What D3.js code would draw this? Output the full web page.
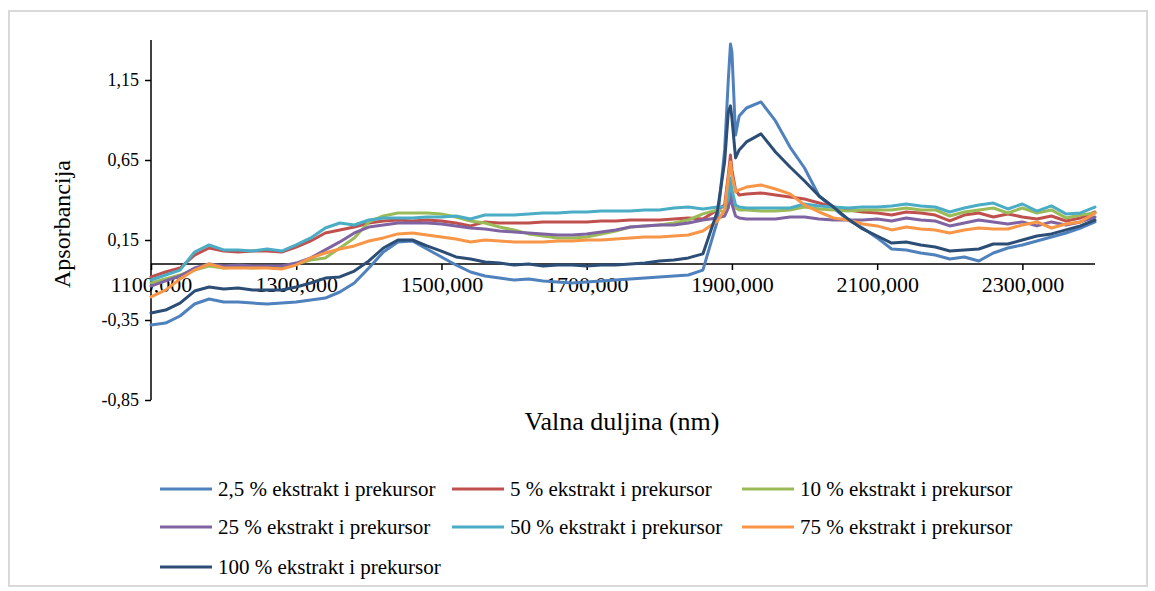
<!DOCTYPE html>
<html>
<head>
<meta charset="utf-8">
<script src="https://cdn.jsdelivr.net/npm/d3@7"></script>
<style>
  html, body { margin: 0; padding: 0; background: #ffffff; }
  svg { display: block; }
  svg text { font-family: "Liberation Serif", "Tinos", "Times New Roman", "DejaVu Serif", serif !important; fill: #000; }
</style>
</head>
<body>
<svg id="chart" width="1155" height="591"></svg>
<script>
// ---- data ----
const wavelengths = [1100,1120,1140,1160,1180,1200,1220,1240,1260,1280,1300,1320,1340,1360,1380,1400,1420,1440,1460,1480,
  1500,1520,1540,1560,1580,1600,1620,1640,1660,1680,1700,1720,1740,1760,1780,1800,1820,1840,1860,1880,
  1890,1895,1898,1900,1905,1910,
  1920,1940,1960,1980,2000,2020,2040,2060,2080,2100,2120,2140,2160,2180,2200,2220,2240,2260,2280,2300,2320,2340,2360,2380,2400];

const seriesNames = ["2,5 % ekstrakt i prekursor","5 % ekstrakt i prekursor","10 % ekstrakt i prekursor",
  "25 % ekstrakt i prekursor","50 % ekstrakt i prekursor","75 % ekstrakt i prekursor","100 % ekstrakt i prekursor"];

const ext2_5 = [-0.381,-0.369,-0.325,-0.250,-0.219,-0.238,-0.238,-0.244,-0.250,-0.244,-0.238,-0.225,-0.213,-0.175,-0.119,-0.025,0.075,0.138,0.144,0.094,
  0.044,-0.006,-0.050,-0.075,-0.088,-0.100,-0.094,-0.106,-0.113,-0.119,-0.113,-0.106,-0.100,-0.094,-0.088,-0.081,-0.075,-0.069,-0.038,0.270,
  0.713,1.150,1.375,1.325,0.806,0.925,
  0.975,1.013,0.894,0.731,0.600,0.425,0.350,0.275,0.225,0.163,0.094,0.088,0.069,0.056,0.031,0.044,0.019,0.069,0.100,0.119,0.144,0.169,0.194,0.225,0.263];

const ext5 = [-0.081,-0.050,-0.025,0.056,0.100,0.081,0.075,0.081,0.081,0.075,0.106,0.144,0.194,0.213,0.231,0.256,0.269,0.275,0.269,0.275,
  0.269,0.256,0.238,0.263,0.256,0.256,0.256,0.263,0.263,0.263,0.263,0.269,0.269,0.275,0.275,0.275,0.281,0.288,0.281,0.338,
  0.369,0.556,0.681,0.588,0.463,0.431,
  0.438,0.444,0.431,0.419,0.406,0.381,0.356,0.338,0.325,0.319,0.306,0.325,0.319,0.306,0.269,0.306,0.319,0.294,0.313,0.294,0.281,0.300,0.269,0.288,0.325];

const ext10 = [-0.119,-0.094,-0.069,-0.038,-0.013,-0.025,-0.019,-0.025,-0.019,-0.025,0.000,0.025,0.038,0.100,0.163,0.263,0.300,0.319,0.319,0.319,
  0.313,0.294,0.269,0.256,0.231,0.213,0.188,0.175,0.163,0.163,0.169,0.188,0.206,0.231,0.238,0.244,0.256,0.275,0.313,0.338,
  0.325,0.369,0.463,0.413,0.350,0.338,
  0.338,0.331,0.331,0.338,0.356,0.344,0.338,0.331,0.338,0.338,0.338,0.350,0.338,0.338,0.300,0.325,0.338,0.350,0.319,0.350,0.319,0.338,0.288,0.306,0.319];

const ext25 = [-0.138,-0.106,-0.075,-0.025,0.000,-0.013,-0.006,-0.013,-0.013,-0.013,0.006,0.038,0.088,0.138,0.194,0.231,0.244,0.256,0.256,0.256,
  0.250,0.238,0.225,0.219,0.206,0.200,0.194,0.188,0.181,0.181,0.188,0.200,0.213,0.231,0.238,0.244,0.244,0.256,0.275,0.288,
  0.300,0.350,0.450,0.375,0.300,0.288,
  0.281,0.281,0.281,0.294,0.294,0.281,0.275,0.275,0.275,0.281,0.269,0.288,0.275,0.269,0.238,0.256,0.275,0.263,0.250,0.263,0.238,0.263,0.244,0.263,0.294];

const ext50 = [-0.100,-0.069,-0.038,0.075,0.119,0.088,0.088,0.081,0.094,0.081,0.119,0.163,0.225,0.256,0.244,0.275,0.288,0.288,0.288,0.294,
  0.294,0.300,0.281,0.306,0.306,0.306,0.313,0.319,0.319,0.325,0.325,0.331,0.331,0.331,0.338,0.338,0.350,0.356,0.344,0.356,
  0.356,0.400,0.538,0.463,0.369,0.356,
  0.350,0.350,0.350,0.350,0.375,0.363,0.356,0.350,0.356,0.356,0.363,0.375,0.363,0.356,0.325,0.350,0.369,0.381,0.344,0.375,0.331,0.363,0.313,0.319,0.356];

const ext75 = [-0.206,-0.163,-0.094,-0.038,0.000,-0.025,-0.025,-0.025,-0.025,-0.031,-0.006,0.038,0.069,0.094,0.113,0.144,0.163,0.188,0.194,0.181,
  0.169,0.156,0.138,0.150,0.144,0.138,0.138,0.138,0.144,0.144,0.150,0.150,0.156,0.163,0.169,0.169,0.175,0.181,0.206,0.269,
  0.338,0.538,0.638,0.556,0.450,0.463,
  0.481,0.494,0.469,0.438,0.369,0.325,0.288,0.275,0.250,0.238,0.213,0.231,0.219,0.213,0.194,0.213,0.225,0.219,0.219,0.244,0.263,0.225,0.250,0.263,0.319];

const ext100 = [-0.306,-0.288,-0.244,-0.169,-0.144,-0.156,-0.150,-0.163,-0.163,-0.163,-0.144,-0.119,-0.088,-0.081,-0.044,0.019,0.100,0.150,0.150,0.113,
  0.081,0.044,0.031,0.013,0.006,-0.006,0.000,-0.013,-0.006,-0.006,-0.013,-0.006,-0.006,0.000,0.006,0.019,0.025,0.038,0.063,0.330,
  0.640,0.950,0.988,0.913,0.663,0.713,
  0.763,0.813,0.700,0.606,0.519,0.425,0.356,0.281,0.219,0.175,0.131,0.138,0.119,0.106,0.081,0.088,0.094,0.125,0.125,0.150,0.175,0.188,0.213,0.238,0.275];

const seriesValues = [ext2_5, ext5, ext10, ext25, ext50, ext75, ext100];
const seriesColors = ["#4F81BD","#C0504D","#9BBB59","#8064A2","#4BACC6","#F79646","#2C4D75"];

const xTicks = [1100,1300,1500,1700,1900,2100,2300];
const yTicks = [-0.85,-0.35,0.15,0.65,1.15];
const xDomain = [1100, 2400];
const yDomain = [-0.85, 1.40];

// ---- drawing ----
const FONT = '"Liberation Serif", "Tinos", "Times New Roman", "DejaVu Serif", serif';
const svg = d3.select("#chart").attr("font-family", FONT);

// chart area border
svg.append("rect")
  .attr("x", 9).attr("y", 11).attr("width", 1138).attr("height", 575)
  .attr("fill", "#ffffff").attr("stroke", "#d9d9d9").attr("stroke-width", 2);

const x = d3.scaleLinear().domain(xDomain).range([151, 1095]);
const y = d3.scaleLinear().domain(yDomain).range([400, 40]);

const fmtY = v => d3.format(".2f")(v).replace(".", ",").replace("−", "-");
const fmtX = v => d3.format(".3f")(v).replace(".", ",");

// Y axis
const yAxis = svg.append("g")
  .attr("transform", `translate(${x(xDomain[0])},0)`)
  .call(d3.axisLeft(y).tickValues(yTicks).tickFormat(fmtY).tickSize(6).tickPadding(6));
yAxis.attr("font-family", FONT);
yAxis.select(".domain").attr("stroke", "#000").attr("stroke-width", 1.5).attr("d", `M0,${y(yDomain[1])}V${y(yDomain[0])}`);
yAxis.selectAll(".tick line").attr("stroke", "#000").attr("stroke-width", 1.5);
yAxis.selectAll(".tick text").attr("font-size", "18px").attr("fill", "#000");

// X axis (crossing at 0)
const xAxis = svg.append("g")
  .attr("transform", `translate(0,${y(0)})`)
  .call(d3.axisBottom(x).tickValues(xTicks).tickFormat(fmtX).tickSize(6).tickPadding(6));
xAxis.attr("font-family", FONT);
xAxis.select(".domain").attr("stroke", "#000").attr("stroke-width", 1.5).attr("d", `M${x(xDomain[0])},0H${x(xDomain[1])}`);
xAxis.selectAll(".tick line").attr("stroke", "#000").attr("stroke-width", 1.5);
xAxis.selectAll(".tick text").attr("font-size", "22px").attr("fill", "#000");

// series lines
const line = d3.line()
  .x((d, i) => x(wavelengths[i]))
  .y(d => y(d));

svg.append("g").selectAll("path")
  .data(seriesValues)
  .join("path")
  .attr("d", d => line(d))
  .attr("fill", "none")
  .attr("stroke", (d, i) => seriesColors[i])
  .attr("stroke-width", 3)
  .attr("stroke-linejoin", "round")
  .attr("stroke-linecap", "round");

// axis titles
svg.append("text")
  .attr("transform", `translate(70,${(y(yDomain[0]) + y(yDomain[1])) / 2 + 4}) rotate(-90)`)
  .attr("text-anchor", "middle")
  .attr("font-size", "24px")
  .text("Apsorbancija");

svg.append("text")
  .attr("x", 622).attr("y", 430)
  .attr("text-anchor", "middle")
  .attr("font-size", "26px")
  .text("Valna duljina (nm)");

// legend
const legendCols = [160, 452, 742];
const legendRows = [489, 527, 567];
const legend = svg.append("g").selectAll("g")
  .data(seriesNames)
  .join("g")
  .attr("transform", (d, i) => `translate(${legendCols[i % 3]},${legendRows[Math.floor(i / 3)]})`);
legend.append("line")
  .attr("x1", 0).attr("x2", 52).attr("y1", 0).attr("y2", 0)
  .attr("stroke", (d, i) => seriesColors[i])
  .attr("stroke-width", 3);
legend.append("text")
  .attr("x", 58).attr("y", 7)
  .attr("font-size", "21px")
  .text(d => d);
</script>
</body>
</html>
